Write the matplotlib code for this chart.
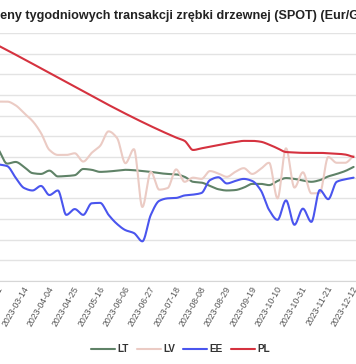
import numpy as np
import pandas as pd
import matplotlib
matplotlib.use("Agg")
import matplotlib.pyplot as plt
import matplotlib.dates as mdates

plt.rcParams["font.family"] = ["Liberation Sans", "DejaVu Sans"]

# weekly prices, Eur/GJ
dates = pd.date_range("2023-02-19", periods=43, freq="7D")

lt = [7.17, 6.84, 6.88, 6.76, 6.61, 6.59, 6.67, 6.53, 6.54, 6.56,
      6.71, 6.69, 6.64, 6.65, 6.67, 6.69, 6.68, 6.66, 6.64, 6.61,
      6.59, 6.58, 6.52, 6.40, 6.38, 6.30, 6.22, 6.19, 6.20, 6.26,
      6.35, 6.35, 6.32, 6.42, 6.49, 6.47, 6.43, 6.40, 6.44, 6.53,
      6.59, 6.66, 6.76]
lv = [8.34, 8.34, 8.25, 8.06, 7.87, 7.58, 7.17, 7.05, 7.05, 7.09,
      6.89, 7.10, 7.27, 7.62, 7.46, 6.85, 7.19, 5.79, 6.64, 6.21,
      6.25, 6.70, 6.40, 6.50, 6.47, 6.66, 6.60, 6.52, 6.64, 6.73,
      6.59, 6.71, 6.86, 6.00, 7.21, 6.26, 6.63, 6.12, 6.13, 7.00,
      6.86, 6.86, 7.03]
ee = [6.82, 6.78, 6.50, 6.25, 6.19, 6.30, 6.08, 6.19, 5.60, 5.74,
      5.60, 5.88, 5.89, 5.60, 5.38, 5.23, 5.16, 4.96, 5.60, 5.94,
      6.00, 6.01, 6.07, 6.09, 6.13, 6.44, 6.51, 6.36, 6.42, 6.47,
      6.42, 6.20, 5.72, 5.48, 5.95, 5.36, 5.75, 5.43, 6.20, 5.98,
      6.40, 6.46, 6.50]
pl = [9.69] + [np.nan] * 20 + [
      7.47, 7.39, 7.17, 7.21, 7.25, 7.29, 7.33, 7.36, 7.39, 7.39,
      7.37, 7.30, 7.21, 7.12, 7.11, 7.10, 7.10, 7.10, 7.09, 7.08,
      7.06, 7.00]

tick_dates = pd.date_range("2023-02-21", "2023-12-12", freq="21D")

series = [("LT", lt, "#5f8267"), ("LV", lv, "#ebcbc4"),
          ("EE", ee, "#4a55ee"), ("PL", pl, "#d5323f")]


def pchip(x, y, xs):
    h = np.diff(x)
    d = np.diff(y) / h
    m = np.zeros_like(y)
    m[0], m[-1] = d[0], d[-1]
    for i in range(1, len(y) - 1):
        if d[i - 1] * d[i] > 0:
            w1 = 2 * h[i] + h[i - 1]
            w2 = h[i] + 2 * h[i - 1]
            m[i] = (w1 + w2) / (w1 / d[i - 1] + w2 / d[i])
    idx = np.clip(np.searchsorted(x, xs) - 1, 0, len(x) - 2)
    t = (xs - x[idx]) / h[idx]
    h00 = 2 * t**3 - 3 * t**2 + 1
    h10 = t**3 - 2 * t**2 + t
    h01 = -2 * t**3 + 3 * t**2
    h11 = t**3 - t**2
    return (h00 * y[idx] + h10 * h[idx] * m[idx]
            + h01 * y[idx + 1] + h11 * h[idx] * m[idx + 1])


fig = plt.figure(figsize=(3.56, 3.64), dpi=100)
ax = fig.add_axes([0, 83 / 364, 1, 248 / 364])

xnum = mdates.date2num(dates)
for name, vals, col in series:
    v = np.array(vals, dtype=float)
    ok = ~np.isnan(v)
    xs = np.linspace(xnum[ok][0], xnum[ok][-1], 800)
    ax.plot(xs, pchip(xnum[ok], v[ok], xs), color=col, lw=1.5,
            label=name, solid_capstyle="round")

d0 = mdates.date2num(pd.Timestamp("2023-03-14"))
ax.set_xlim(d0 - 27 / 1.23, d0 + 329 / 1.23)
ax.set_ylim(4, 10)
ax.set_yticks(np.arange(4, 10.01, 0.5))
ax.grid(axis="y", color="#e3e3e3", lw=1)
ax.set_axisbelow(True)
for s in ["top", "left", "right"]:
    ax.spines[s].set_visible(False)
ax.spines["bottom"].set_color("#d6d6d6")
ax.tick_params(axis="y", left=False, labelleft=False)
ax.set_xticks(mdates.date2num(tick_dates))
ax.set_xticklabels([d.strftime("%Y-%m-%d") for d in tick_dates],
                   rotation=60, ha="right", va="center",
                   rotation_mode="anchor", fontsize=6.3, color="#555555")
ax.tick_params(axis="x", length=0, pad=4)

fig.text(-0.026, 0.957,
         "Ceny tygodniowych transakcji zrębki drzewnej (SPOT) (Eur/GJ)",
         fontsize=9.1, fontweight="bold", color="#222222", va="center")

fig.legend(loc="center", bbox_to_anchor=(0.507, 1 - 349 / 364), ncol=4,
           frameon=False, handlelength=2.4, handletextpad=0.25,
           columnspacing=0.8, prop={"size": 7.2, "weight": "bold"},
           labelcolor="#333333")

fig.savefig("out.png", dpi=100)
